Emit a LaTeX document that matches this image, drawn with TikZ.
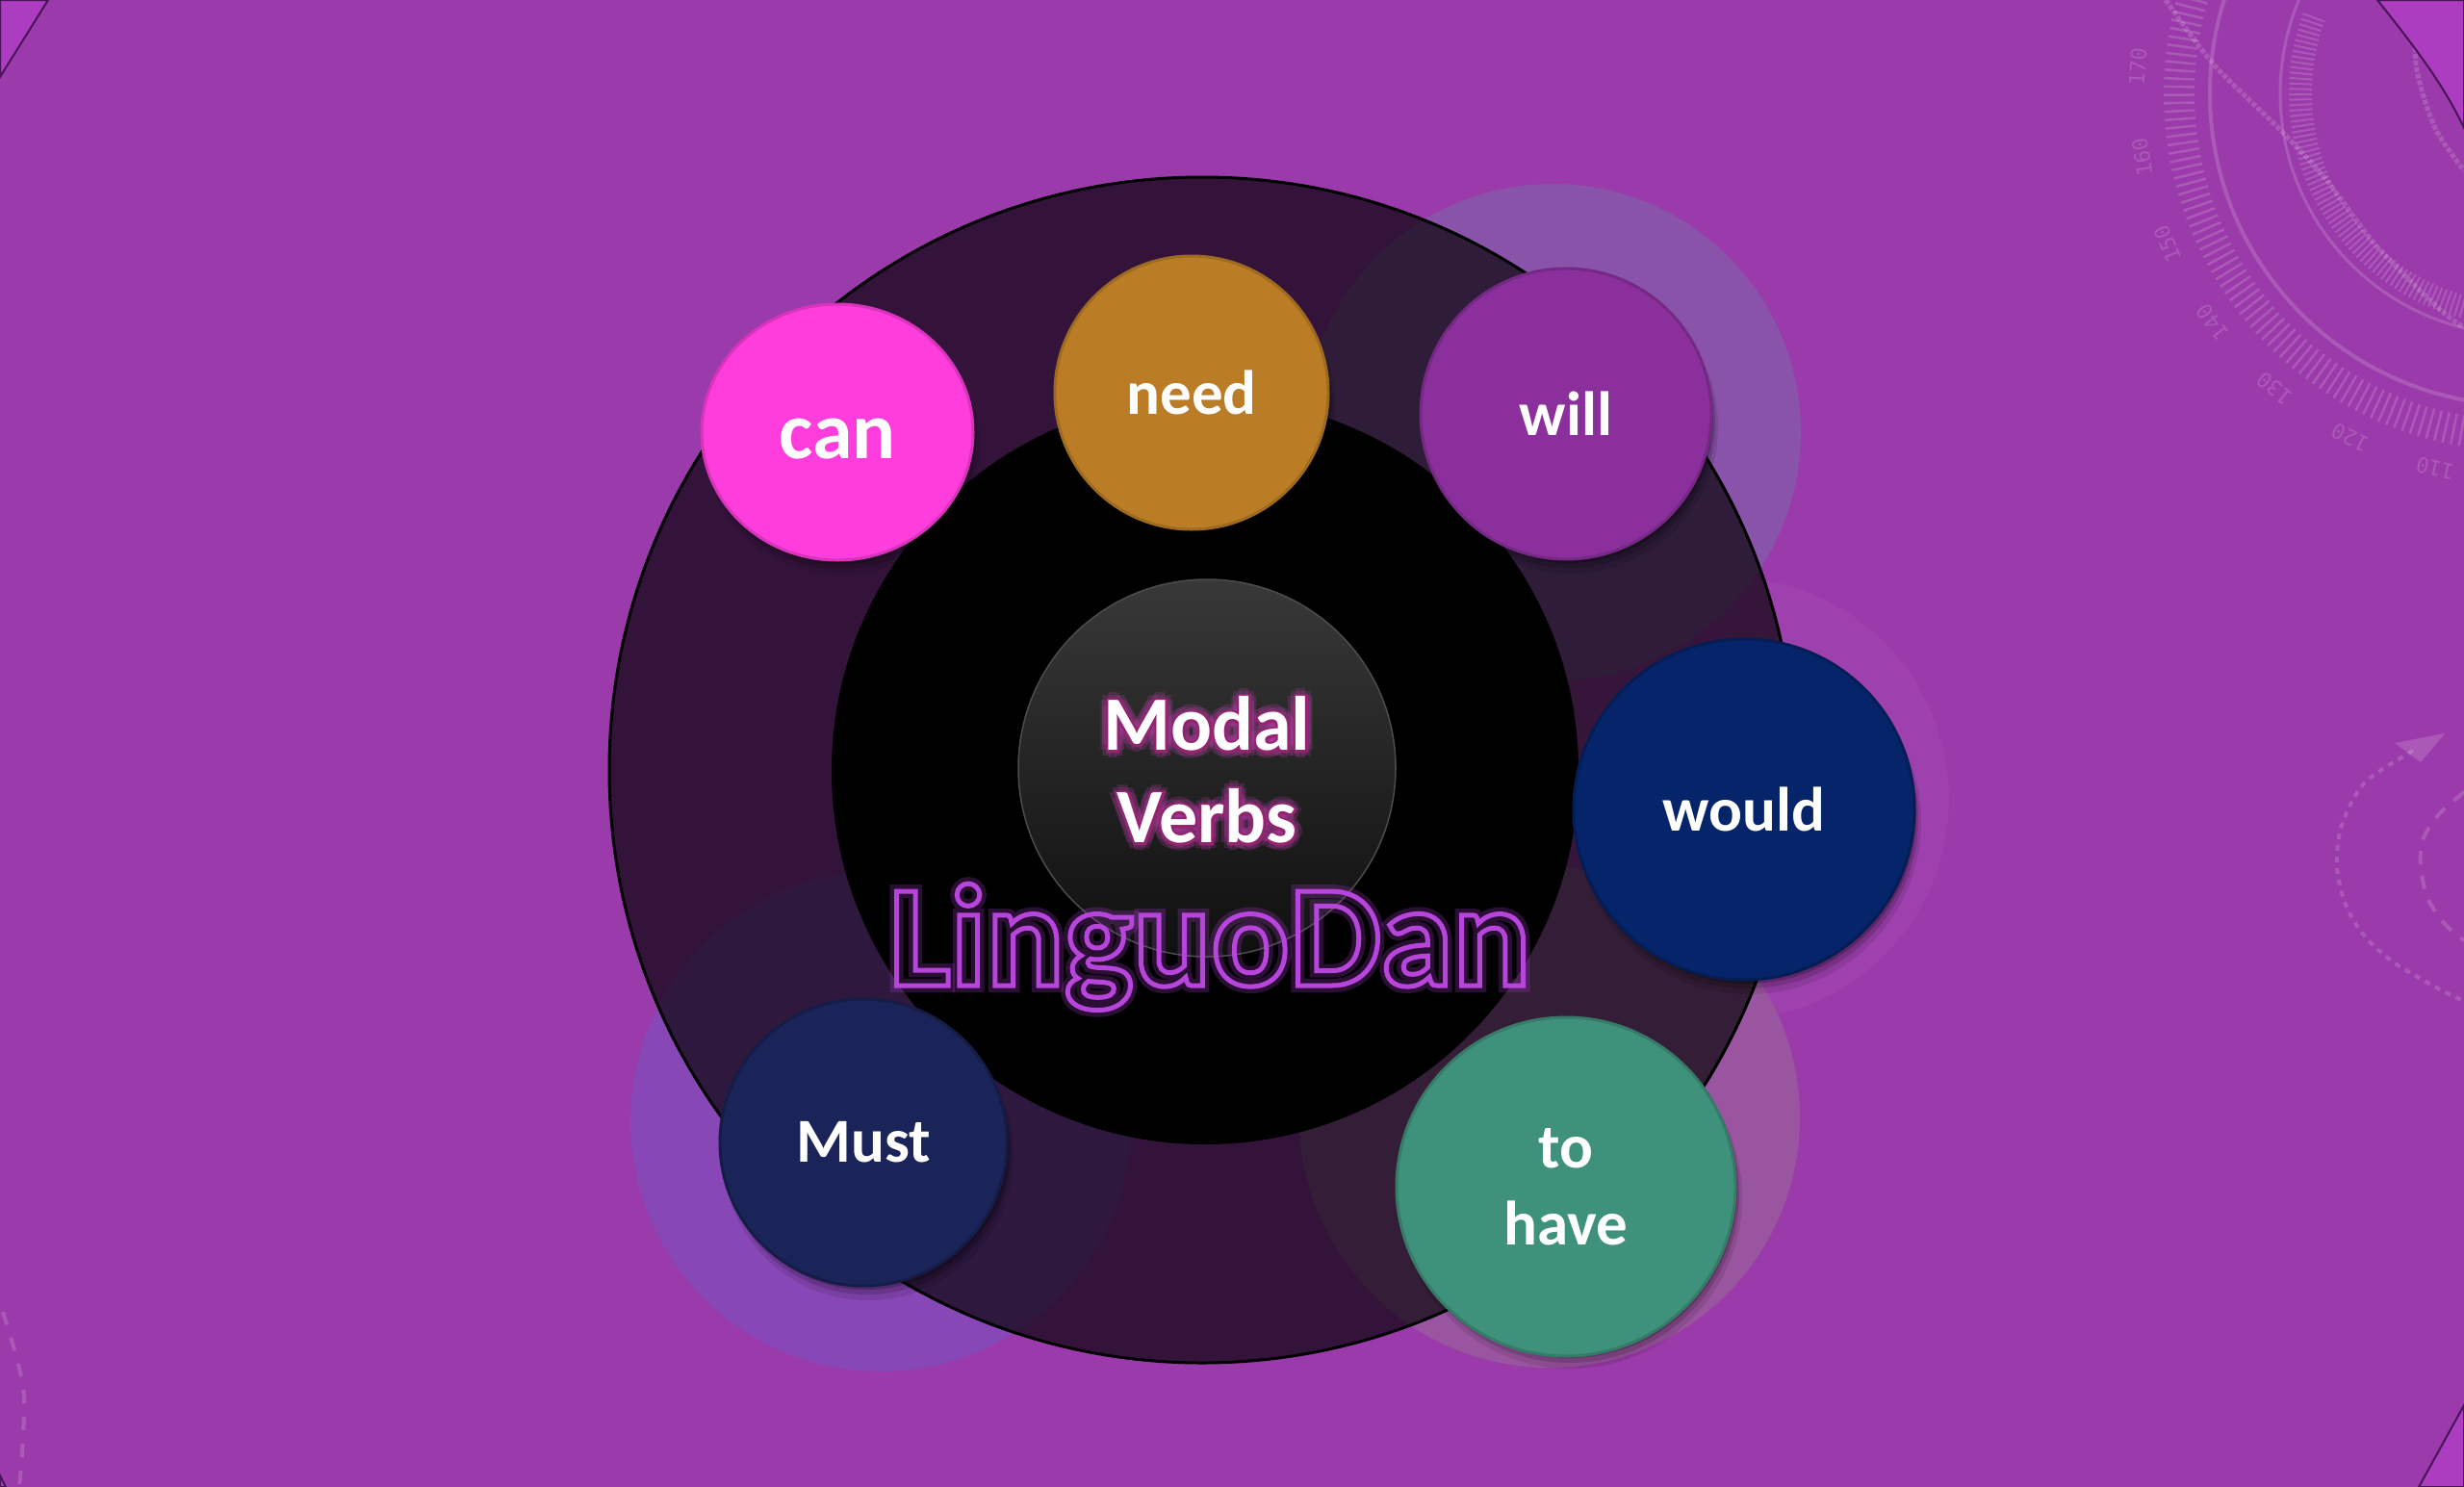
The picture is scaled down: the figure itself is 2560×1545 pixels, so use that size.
\documentclass[tikz,border=0pt]{standalone}
\usepackage{fontspec}
\setmainfont{Carlito}
\newfontfamily\rulerfont{DejaVu Sans Mono}
\usetikzlibrary{shapes.geometric,calc}
\definecolor{bgpurple}{HTML}{9B3AAA}
\definecolor{cornerpurple}{HTML}{AC3DC0}
\definecolor{cornerline}{HTML}{4A1258}
\definecolor{halowill}{HTML}{8853A9}
\definecolor{halohave}{HTML}{9A55A0}
\definecolor{halomust}{HTML}{8747B6}
\definecolor{halowould}{HTML}{9F40AF}
\definecolor{cancol}{HTML}{FF3CDC}
\definecolor{needcol}{HTML}{BA7D26}
\definecolor{willcol}{HTML}{8B2F9C}
\definecolor{wouldcol}{HTML}{06246A}
\definecolor{havecol}{HTML}{3E917A}
\definecolor{mustcol}{HTML}{1A2459}
\definecolor{neonpurple}{HTML}{A636C4}
\definecolor{glowpink}{HTML}{C23FB0}

\newcommand\shadowdisc[3]{%
  \fill[black,opacity=.10] (#1+5,#2+13) circle (#3+2);
  \fill[black,opacity=.15] (#1+4,#2+9) circle (#3);
  \fill[black,opacity=.22] (#1+3,#2+5) circle (#3-1);}
% text render mode: #1 mode, #2 stroke width, #3 stroke rgb
\newcommand\strokemode[3]{\special{pdf:literal direct #1 Tr #2 w #3 RG}}
\newcommand\plainmode{\special{pdf:literal direct 0 Tr 0.4 w 0 0 0 RG}}
% soft glow: copies of a text round a point
\newcommand\glowcopies[6]{%
  \foreach \a in {0,45,...,315}{%
    \node[#5,opacity=#4,inner sep=0pt] at ($(#1,#2)+(\a:#3)$) {#6};}}

\begin{document}
\begin{tikzpicture}[x=1pt,y=-1pt,
  vc/.style={circle, inner sep=0pt, text=white, align=center, line width=3pt,
             font=\bfseries\fontsize{65}{80}\selectfont},
  lgfont/.style={font=\bfseries\fontsize{151}{151}\selectfont, inner sep=0pt, anchor=base},
  mvfont/.style={font=\bfseries\fontsize{80}{96}\selectfont, align=center},
  deco/.style={white, opacity=.16},
]
\useasboundingbox (0,0) rectangle (2560,1545);
\fill[bgpurple] (0,0) rectangle (2560,1545);

% ---------- faint background decorations ----------
\begin{scope}[deco]
  \coordinate (rc) at (2620,97);
  \draw[line width=4] (rc) circle (324);
  \draw[line width=3] (rc) circle (251);
  \foreach \k in {0,...,78}{
    \draw[line width=2.5] ($(rc)+({200-\k*1.35}:340)$) -- ($(rc)+({200-\k*1.35}:372)$);
    \draw[line width=2] ($(rc)+({200-\k*1.35}:218)$) -- ($(rc)+({200-\k*1.35}:242)$);}
  \foreach \n in {180,170,...,110}{
    \node[font=\rulerfont\fontsize{22}{22}\selectfont, text=white, inner sep=0pt, rotate={-(184-(170-\n)*1.35)-90}]
      at ($(rc)+({184-(170-\n)*1.35}:400)$) {\n};}
  \draw[dotted, line width=5] plot[smooth] coordinates {(2250,0) (2300,67) (2367,133) (2417,187) (2467,253) (2533,320) (2560,340)};
  \draw[dotted, line width=5] plot[smooth] coordinates {(2513,0) (2510,67) (2530,133) (2560,177)};
  \draw[dash pattern=on 6pt off 6pt, line width=4] plot[smooth] coordinates {(2507,780) (2457,813) (2433,857) (2428,900) (2437,940) (2457,973) (2487,1000) (2533,1027) (2560,1040)};
  \fill (2488,772) -- (2540,762) -- (2515,792) -- cycle;
  \draw[dash pattern=on 14pt off 12pt, line width=4] plot[smooth] coordinates {(2560,823) (2533,847) (2517,873) (2515,900) (2522,933) (2540,960) (2560,977)};
  \draw[dash pattern=on 14pt off 14pt, line width=4] plot[smooth] coordinates {(3,1363) (17,1410) (25,1450) (23,1510) (20,1545)};
\end{scope}

% ---------- corner triangles ----------
\filldraw[fill=cornerpurple, draw=cornerline, line width=2] (0,0) -- (50,0) -- (0,80) -- cycle;
\filldraw[fill=cornerpurple, draw=cornerline, line width=2] (2470,0) .. controls (2510,50) and (2540,90) .. (2560,133) -- (2560,0) -- cycle;
\filldraw[fill=cornerpurple, draw=cornerline, line width=2] (2560,1460) -- (2513,1545) -- (2560,1545) -- cycle;
\filldraw[fill=cornerpurple, draw=cornerline, line width=2] (0,1533) -- (6,1545) -- (0,1545) -- cycle;

% ---------- halos ----------
\fill[halowould] (1795,830) circle (230);
\fill[halowill] (1613,449) circle (258);
\fill[halohave] (1610,1161) circle (260);
\fill[halomust] (915,1165) circle (260);

% ---------- rings ----------
\node[circle, minimum size=1232, inner sep=0pt, fill=black, fill opacity=.66, draw=black, line width=3] (ring) at (1249,800) {};
\node[circle, minimum size=776, inner sep=0pt, fill=black] (core) at (1252,801) {};
\node[circle, minimum size=392, inner sep=0pt, top color=black!78, bottom color=black!94, draw=black!70, line width=1.5] (hub) at (1254,798) {};

% ---------- Modal Verbs ----------
\glowcopies{1254}{800}{8}{.22}{mvfont,text=glowpink,anchor=center}{Modal\\Verbs}
\node[mvfont, text=white, inner sep=0pt] (titlerim) at (1254,800)
  {\strokemode{1}{5}{0.58 0.14 0.44}Modal\\Verbs\plainmode};
\node[mvfont, text=white, inner sep=0pt] (title) at (1254,800) {Modal\\Verbs};

% ---------- LinguoDan (hollow neon outline) ----------
\node[lgfont, text=black, opacity=.25] (brandglow) at (1257,1024)
  {\strokemode{1}{14}{0.66 0.22 0.80}LinguoDan\plainmode};
\node[lgfont, text=black] (brand) at (1257,1024)
  {\strokemode{1}{5}{0.72 0.27 0.86}LinguoDan\plainmode};

% ---------- verb circles ----------
\fill[black,opacity=.10] (875,462) ellipse (143 and 135);
\fill[black,opacity=.15] (874,458) ellipse (141 and 133);
\fill[black,opacity=.22] (873,454) ellipse (140 and 132);
\node[vc, ellipse, fill=cancol, draw=cancol!85!black, minimum width=282, minimum height=266,
      text height=55pt, text depth=0pt,
      font=\bfseries\fontsize{84}{90}\selectfont] (can) at (870,449) {can};

\shadowdisc{1238}{408}{142}
\node[vc, fill=needcol, draw=needcol!85!black, minimum size=284] (need) at (1238,408) {need};

\shadowdisc{1627}{430}{151}
\node[vc, fill=willcol, draw=willcol!85!black, minimum size=302] (will) at (1627,430) {will};

\shadowdisc{1812}{841}{177}
\node[vc, fill=wouldcol, draw=wouldcol!80!black, minimum size=354] (would) at (1812,841) {would};

\shadowdisc{1627}{1231}{176}
\node[vc, fill=havecol, draw=havecol!85!black, minimum size=352] (tohave) at (1627,1233) {to\\have};

\shadowdisc{897}{1187}{149}
\node[vc, fill=mustcol, draw=mustcol!80!black, minimum size=298] (must) at (897,1187) {Must};
\end{tikzpicture}
\end{document}
